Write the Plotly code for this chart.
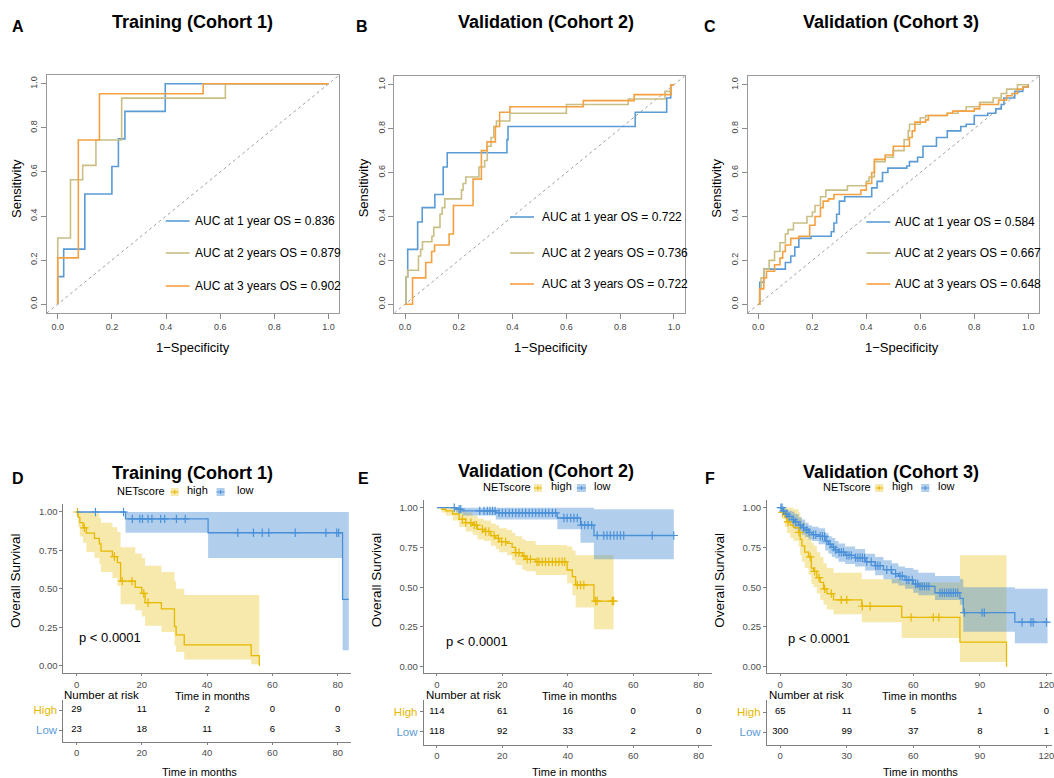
import numpy as np
import plotly.graph_objects as go

W, H = 1054, 778
FONT = "Liberation Sans, Arial, sans-serif"

# ---------------- ROC data (fpr, tpr step vertices) ----------------
rocA_1_fpr = [0, 0, 0.022, 0.10, 0.20, 0.224, 0.248, 0.397, 1.0]
rocA_1_tpr = [0, 0.125, 0.25, 0.50, 0.625, 0.75, 0.875, 1.0, 1.0]
rocA_2_fpr = [0, 0, 0.047, 0.092, 0.141, 0.236, 0.619, 1.0]
rocA_2_tpr = [0, 0.30, 0.565, 0.63, 0.745, 0.935, 1.0, 1.0]
rocA_3_fpr = [0, 0, 0.076, 0.154, 0.537, 1.0]
rocA_3_tpr = [0, 0.21, 0.745, 0.955, 1.0, 1.0]

rocB_1_fpr = [0, 0.004, 0.01, 0.047, 0.064, 0.111, 0.142, 0.157, 0.379, 0.383, 0.856, 0.973, 0.988, 1.0]
rocB_1_tpr = [0, 0.125, 0.25, 0.375, 0.44, 0.50, 0.625, 0.69, 0.75, 0.81, 0.875, 0.94, 1.0, 1.0]
rocB_2_fpr = [0, 0.004, 0.01, 0.05, 0.058, 0.065, 0.10, 0.107, 0.13, 0.138, 0.148, 0.21, 0.216, 0.226,
              0.275, 0.296, 0.306, 0.32, 0.33, 0.34, 0.39, 0.60, 0.83, 0.967, 0.988, 1.0]
rocB_2_tpr = [0, 0.125, 0.155, 0.22, 0.25, 0.285, 0.31, 0.35, 0.41, 0.44, 0.48, 0.52, 0.55, 0.58,
              0.625, 0.655, 0.72, 0.76, 0.81, 0.835, 0.87, 0.91, 0.935, 0.97, 1.0, 1.0]
rocB_3_fpr = [0, 0.028, 0.077, 0.099, 0.11, 0.164, 0.18, 0.253, 0.284, 0.305, 0.336, 0.352, 0.39,
              0.663, 0.852, 0.99, 1.0]
rocB_3_tpr = [0, 0.12, 0.19, 0.24, 0.27, 0.32, 0.45, 0.57, 0.70, 0.74, 0.81, 0.875, 0.90,
              0.928, 0.955, 1.0, 1.0]

rocC_1_fpr = [0, 0.005, 0.02, 0.10, 0.12, 0.135, 0.15, 0.195, 0.27, 0.28, 0.29, 0.30, 0.32, 0.42, 0.44,
              0.46, 0.48, 0.55, 0.56, 0.59, 0.61, 0.66, 0.70, 0.75, 0.77, 0.80, 0.85, 0.88, 0.90, 0.91,
              0.95, 0.98, 1.0]
rocC_1_tpr = [0, 0.10, 0.16, 0.19, 0.22, 0.26, 0.30, 0.31, 0.33, 0.37, 0.41, 0.47, 0.49, 0.53, 0.56,
              0.60, 0.62, 0.63, 0.65, 0.67, 0.72, 0.76, 0.79, 0.81, 0.82, 0.86, 0.87, 0.89, 0.91, 0.94,
              0.97, 0.99, 1.0]
rocC_2_fpr = [0, 0.005, 0.01, 0.02, 0.04, 0.06, 0.08, 0.10, 0.11, 0.13, 0.18, 0.20, 0.21, 0.23, 0.25,
              0.33, 0.40, 0.41, 0.43, 0.47, 0.50, 0.54, 0.555, 0.56, 0.60, 0.62, 0.70, 0.74, 0.77, 0.82,
              0.87, 0.90, 0.92, 0.96, 1.0]
rocC_2_tpr = [0, 0.07, 0.12, 0.16, 0.20, 0.24, 0.28, 0.32, 0.34, 0.37, 0.40, 0.42, 0.45, 0.49, 0.52,
              0.54, 0.56, 0.58, 0.65, 0.67, 0.70, 0.75, 0.79, 0.82, 0.85, 0.86, 0.87, 0.88, 0.90, 0.92,
              0.94, 0.96, 0.98, 1.0, 1.0]
rocC_3_fpr = [0, 0.005, 0.02, 0.03, 0.06, 0.08, 0.09, 0.10, 0.12, 0.15, 0.19, 0.21, 0.23, 0.24, 0.26,
              0.28, 0.38, 0.40, 0.42, 0.43, 0.47, 0.50, 0.56, 0.57, 0.58, 0.62, 0.63, 0.70, 0.72, 0.80,
              0.82, 0.89, 0.92, 0.94, 0.96, 0.98, 1.0]
rocC_3_tpr = [0, 0.07, 0.12, 0.15, 0.18, 0.21, 0.24, 0.27, 0.30, 0.31, 0.36, 0.40, 0.44, 0.47, 0.48,
              0.50, 0.52, 0.55, 0.60, 0.66, 0.68, 0.72, 0.76, 0.79, 0.83, 0.84, 0.86, 0.87, 0.88, 0.89,
              0.91, 0.93, 0.95, 0.96, 0.98, 0.99, 1.0]

aucA = ["0.836", "0.879", "0.902"]
aucB = ["0.722", "0.736", "0.722"]
aucC = ["0.584", "0.667", "0.648"]
roc_labels = ["AUC at 1 year OS = ", "AUC at 2 years OS = ", "AUC at 3 years OS = "]

# ---------------- KM data ----------------
# Cohort 1
D_high_t = [0, 0.5, 1, 2, 3, 5.5, 7, 7.5, 11, 12.5, 13.5, 18, 20, 21, 26, 30, 30.5, 33, 53.5, 56]
D_high_s = [1, 0.966, 0.931, 0.897, 0.862, 0.828, 0.793, 0.745, 0.710, 0.670, 0.550, 0.510, 0.470,
            0.410, 0.370, 0.254, 0.200, 0.135, 0.065, 0.0]
D_high_up = [1, 1, 1, 1, 1, 0.99, 0.96, 0.93, 0.90, 0.87, 0.77, 0.73, 0.70, 0.65, 0.61, 0.55, 0.50,
             0.46, 0.46, 0.46]
D_high_lo = [1, 0.90, 0.84, 0.80, 0.74, 0.70, 0.66, 0.61, 0.57, 0.52, 0.40, 0.36, 0.32, 0.26, 0.22,
             0.13, 0.09, 0.04, 0.01, 0.0]
D_high_end = 56
D_high_cens = [0.3, 2.4, 11.6, 14.0, 17.0, 20.6, 21.9]
D_low_t = [0, 15, 40.3, 81.5]
D_low_s = [1, 0.955, 0.865, 0.432]
D_low_up = [1, 1, 1, 1]
D_low_lo = [1, 0.865, 0.70, 0.10]
D_low_end = 83.4
D_low_cens = [5.8, 14.4, 17.1, 19.4, 20.2, 21.9, 23.1, 25.8, 27.0, 30.6, 33.3, 49.4, 54.2, 56.9,
              58.9, 67.0, 76.4, 79.7, 80.3]

# Cohort 2
E_high_t = [0, 1.5, 2.7, 4.8, 6.8, 8.8, 10.9, 12.4, 14.4, 16.5, 18, 19, 21.5, 23, 24, 26.1, 27.1,
            30.2, 39.8, 41.4, 42.4, 48]
E_high_s = [1, 0.99, 0.98, 0.96, 0.927, 0.906, 0.89, 0.864, 0.85, 0.824, 0.807, 0.786, 0.776, 0.75,
            0.717, 0.696, 0.675, 0.66, 0.608, 0.566, 0.514, 0.413]
E_high_up = [1, 1, 1, 1, 0.98, 0.97, 0.95, 0.93, 0.92, 0.90, 0.89, 0.87, 0.86, 0.84, 0.82, 0.80,
             0.79, 0.765, 0.755, 0.73, 0.70, 0.70]
E_high_lo = [1, 0.97, 0.95, 0.92, 0.88, 0.85, 0.83, 0.80, 0.79, 0.76, 0.74, 0.72, 0.70, 0.67, 0.64,
             0.61, 0.60, 0.576, 0.524, 0.45, 0.373, 0.235]
E_high_end = 54
E_high_cens = [7.8, 8.8, 10.4, 11.4, 12.1, 13.9, 14.9, 15.9, 17.5, 18.8, 19.8, 21.0, 24.1, 25.1,
               26.6, 27.6, 28.6, 30.6, 31.2, 32.2, 33.2, 34.2, 35.3, 36.3, 37.3, 38.3, 39.1, 42.9,
               43.9, 44.9, 48.5, 49.0, 53.6, 54.0]
E_low_t = [0, 5.8, 7.8, 18, 36.8, 43.9, 48]
E_low_s = [1, 0.99, 0.98, 0.967, 0.935, 0.89, 0.825]
E_low_up = [1, 1, 1, 1, 1, 1, 0.99]
E_low_lo = [1, 0.97, 0.95, 0.925, 0.864, 0.78, 0.675]
E_low_end = 72.4
E_low_cens = [5.3, 6.8, 7.3, 13.1, 14.4, 15.4, 16.2, 17.0, 17.8, 19.0, 20.0, 21.0, 22.1, 23.1, 24.1,
              25.1, 26.1, 27.1, 28.2, 29.2, 30.2, 31.2, 32.2, 33.2, 34.2, 35.3, 36.3, 38.8, 39.8,
              40.9, 41.9, 42.9, 44.2, 45.2, 46.2, 47.3, 49.0, 51.0, 52.0, 53.0, 54.1, 55.1, 56.1,
              57.1, 65.8, 72.4]

# Cohort 3
F_high_t = [0, 0.75, 2, 3, 4.5, 6, 8.25, 9, 9.75, 11, 12.75, 14, 15, 16.5, 18, 19.5, 21, 24, 36.75,
            54.75, 81, 102]
F_high_s = [1, 0.97, 0.94, 0.91, 0.89, 0.875, 0.845, 0.80, 0.76, 0.72, 0.69, 0.62, 0.60, 0.56, 0.53,
            0.49, 0.46, 0.42, 0.38, 0.31, 0.155, 0.0]
F_high_up = [1, 1, 1, 1, 1, 0.99, 0.97, 0.94, 0.91, 0.87, 0.84, 0.78, 0.76, 0.72, 0.69, 0.65, 0.62,
             0.59, 0.55, 0.53, 0.70, 0.70]
F_high_lo = [1, 0.93, 0.88, 0.84, 0.81, 0.79, 0.755, 0.70, 0.66, 0.62, 0.58, 0.52, 0.50, 0.46, 0.42,
             0.39, 0.36, 0.33, 0.28, 0.18, 0.03, 0.03]
F_high_end = 102
F_high_cens = [1, 3.5, 8.5, 13.5, 15.5, 17.5, 20, 23, 27.5, 30, 37, 40.5, 59, 69, 71.5]
F_low_t = [0, 1, 2.25, 3.5, 5.25, 6.5, 8.25, 9.75, 11.25, 12.75, 14.25, 17.25, 20.25, 21.75, 23.25,
           24.75, 26.25, 29.25, 33.75, 38.25, 42.75, 46.5, 50.25, 53.25, 56.25, 60, 62.25, 69.75,
           81, 82.5, 105.75]
F_low_s = [1, 0.98, 0.96, 0.945, 0.925, 0.91, 0.89, 0.875, 0.86, 0.845, 0.83, 0.82, 0.79, 0.77, 0.75,
           0.735, 0.72, 0.70, 0.685, 0.66, 0.635, 0.61, 0.585, 0.57, 0.545, 0.52, 0.505, 0.465, 0.43,
           0.34, 0.28]
F_low_up = [1, 1, 0.99, 0.98, 0.975, 0.96, 0.94, 0.925, 0.905, 0.89, 0.88, 0.87, 0.84, 0.82, 0.81,
            0.79, 0.775, 0.755, 0.74, 0.71, 0.69, 0.67, 0.65, 0.63, 0.62, 0.61, 0.59, 0.57, 0.55,
            0.50, 0.49]
F_low_lo = [1, 0.96, 0.93, 0.91, 0.88, 0.865, 0.85, 0.83, 0.815, 0.80, 0.79, 0.77, 0.73, 0.71, 0.69,
            0.68, 0.66, 0.645, 0.63, 0.605, 0.575, 0.55, 0.525, 0.51, 0.49, 0.465, 0.45, 0.42, 0.39,
            0.22, 0.147]
F_low_end = 120.5
F_low_cens = [0.3, 0.8, 1.5, 3, 4, 6, 7, 9, 10.5, 12, 13, 15, 16, 18, 19, 20, 21, 22.5, 24, 25, 26.5,
              27.5, 28.5, 30, 31, 32, 34, 35, 36, 37, 38, 39, 41, 43, 44, 45, 48, 50, 52, 54, 55,
              57, 58, 59.5, 61, 62, 63, 64, 65, 66, 67, 72, 73, 74, 75, 76, 77, 78, 79, 80, 83, 91,
              92, 109, 113, 114, 120]

# Risk tables
D_risk_t = [0, 20, 40, 60, 80]
D_risk_high = [29, 11, 2, 0, 0]
D_risk_low = [23, 18, 11, 6, 3]
E_risk_t = [0, 20, 40, 60, 80]
E_risk_high = [114, 61, 16, 0, 0]
E_risk_low = [118, 92, 33, 2, 0]
F_risk_t = [0, 30, 60, 90, 120]
F_risk_high = [65, 11, 5, 1, 0]
F_risk_low = [300, 99, 37, 8, 1]

surv_ticks = [0, 0.25, 0.5, 0.75, 1.0]
surv_ticktext = ["0.00", "0.25", "0.50", "0.75", "1.00"]
roc_ticks = [0, 0.2, 0.4, 0.6, 0.8, 1.0]
roc_ticktext = ["0.0", "0.2", "0.4", "0.6", "0.8", "1.0"]

# ---------------- styling ----------------
C_BLUE, C_TAN, C_ORANGE = "#5B9BD5", "#C9BF85", "#F5A141"
C_HIGH, C_LOW = "#E7B800", "#4A90D9"
F_HIGH, F_LOW = "rgba(231,184,0,0.33)", "rgba(70,140,210,0.42)"


def fx(px):
    return px / W


def fy(py):
    return 1 - py / H


def dx(a, b):
    return [a / W, b / W]


def dy(top, bottom):
    return [1 - bottom / H, 1 - top / H]


fig = go.Figure()
layout = dict(width=W, height=H, margin=dict(l=0, r=0, t=0, b=0), paper_bgcolor="white",
              plot_bgcolor="rgba(0,0,0,0)", showlegend=False, font=dict(family=FONT, color="black"))
annotations = []
shapes = []


def ax_name(i, k):
    return f"{k}axis" if i == 1 else f"{k}axis{i}"


def ref(i, k):
    return k if i == 1 else f"{k}{i}"


def ann(x, y, text, size=12, color="black", xanchor="center", yanchor="middle", bold=False, angle=0):
    if bold:
        text = f"<b>{text}</b>"
    annotations.append(dict(x=fx(x), y=fy(y), xref="paper", yref="paper", text=text, showarrow=False,
                            xanchor=xanchor, yanchor=yanchor, textangle=angle,
                            font=dict(family=FONT, size=size, color=color)))


# ---------------- ROC panels ----------------
roc_panels = [
    (1, (47, 340), (75, 313), [(rocA_1_fpr, rocA_1_tpr), (rocA_2_fpr, rocA_2_tpr), (rocA_3_fpr, rocA_3_tpr)], aucA,
     (166, 190, 193, [221, 253, 286]), 17, 193, 347),
    (2, (395, 686), (76, 313), [(rocB_1_fpr, rocB_1_tpr), (rocB_2_fpr, rocB_2_tpr), (rocB_3_fpr, rocB_3_tpr)], aucB,
     (511, 535, 541, [217, 253, 284]), 365, 552, 347),
    (3, (749, 1041), (76, 313), [(rocC_1_fpr, rocC_1_tpr), (rocC_2_fpr, rocC_2_tpr), (rocC_3_fpr, rocC_3_tpr)], aucC,
     (868, 892, 895, [222, 253, 284]), 718, 904, 347),
]
roc_colors = [C_BLUE, C_TAN, C_ORANGE]
RR = [-0.04, 1.04]
for i, xd, yd, curves, aucs, leg, ytx, xtx, xty in roc_panels:
    common = dict(range=RR, showgrid=False, zeroline=False, showline=True, mirror=True, linecolor="#9a9a9a",
                  linewidth=1, ticks="outside", ticklen=5, tickcolor="#8a8a8a", tickvals=roc_ticks,
                  ticktext=roc_ticktext, tickfont=dict(size=9, color="#444", family=FONT), fixedrange=True)
    layout[ax_name(i, "x")] = dict(domain=dx(*xd), anchor=ref(i, "y"), **common)
    layout[ax_name(i, "y")] = dict(domain=dy(*yd), anchor=ref(i, "x"), tickangle=-90, **common)
    # diagonal reference
    shapes.append(dict(type="line", xref=ref(i, "x"), yref=ref(i, "y"), x0=RR[0], y0=RR[0], x1=RR[1], y1=RR[1],
                       line=dict(color="#a0a0a0", width=1, dash="dot"), layer="below"))
    for (fpr, tpr), col in zip(curves, roc_colors):
        fig.add_trace(go.Scatter(x=fpr, y=tpr, mode="lines", line=dict(color=col, width=1.6, shape="hv"),
                                 xaxis=ref(i, "x"), yaxis=ref(i, "y"), hoverinfo="skip"))
    lx0, lx1, tx, rows = leg
    for lab, auc, col, ry in zip(roc_labels, aucs, roc_colors, rows):
        shapes.append(dict(type="line", xref="paper", yref="paper", x0=fx(lx0), x1=fx(lx1), y0=fy(ry), y1=fy(ry),
                           line=dict(color=col, width=1.6)))
        ann(tx, ry, lab + auc, size=12, xanchor="left")
    ann(ytx, 188, "Sensitivity", size=13, angle=-90)
    ann(xtx, xty, "1\u2212Specificity", size=13)

# ---------------- KM panels ----------------
km_panels = [
    dict(i=4, r=7, xd=(63.6, 351.4), yd=(504.3, 673.4), yr=[-0.05, 1.05], xr=[-4, 84], xt=[0, 20, 40, 60, 80],
         high=(D_high_t, D_high_s, D_high_up, D_high_lo, D_high_end, D_high_cens),
         low=(D_low_t, D_low_s, D_low_up, D_low_lo, D_low_end, D_low_cens),
         risk=(D_risk_t, D_risk_high, D_risk_low), ryd=(700, 742), ryr=[-0.6, 1.5]),
    dict(i=5, r=8, xd=(424.6, 713.1), yd=(499.7, 673.4), yr=[-0.042, 1.05], xr=[-4, 84], xt=[0, 20, 40, 60, 80],
         high=(E_high_t, E_high_s, E_high_up, E_high_lo, E_high_end, E_high_cens),
         low=(E_low_t, E_low_s, E_low_up, E_low_lo, E_low_end, E_low_cens),
         risk=(E_risk_t, E_risk_high, E_risk_low), ryd=(700, 745), ryr=[-0.665, 1.585]),
    dict(i=6, r=9, xd=(768.4, 1054), yd=(499.7, 673.4), yr=[-0.042, 1.05], xr=[-6, 122.5], xt=[0, 30, 60, 90, 120],
         high=(F_high_t, F_high_s, F_high_up, F_high_lo, F_high_end, F_high_cens),
         low=(F_low_t, F_low_s, F_low_up, F_low_lo, F_low_end, F_low_cens),
         risk=(F_risk_t, F_risk_high, F_risk_low), ryd=(700, 745), ryr=[-0.65, 1.6]),
]

for p in km_panels:
    i, r = p["i"], p["r"]
    xa, ya = ref(i, "x"), ref(i, "y")
    kcommon = dict(showgrid=False, zeroline=False, showline=True, linecolor="#7f7f7f", linewidth=1,
                   ticks="outside", ticklen=3, tickcolor="#7f7f7f",
                   tickfont=dict(size=9.5, color="#4d4d4d", family=FONT), fixedrange=True)
    xcommon = dict(kcommon)
    xcommon["ticklen"] = 2
    xcommon["ticklabeloverflow"] = "allow"
    layout[ax_name(i, "x")] = dict(domain=dx(*p["xd"]), range=p["xr"], anchor=ya, tickvals=p["xt"], **xcommon)
    layout[ax_name(i, "y")] = dict(domain=dy(*p["yd"]), range=p["yr"], anchor=xa, tickvals=surv_ticks,
                                   ticktext=surv_ticktext, **kcommon)
    for grp, lc, fc in [(p["high"], C_HIGH, F_HIGH), (p["low"], C_LOW, F_LOW)]:
        t, s, up, lo, end, cens = grp
        tx = list(t) + [end]
        fig.add_trace(go.Scatter(x=tx, y=list(lo) + [lo[-1]], mode="lines", line=dict(width=0, shape="hv"),
                                 xaxis=xa, yaxis=ya, hoverinfo="skip"))
        fig.add_trace(go.Scatter(x=tx, y=list(up) + [up[-1]], mode="lines", line=dict(width=0, shape="hv"),
                                 fill="tonexty", fillcolor=fc, xaxis=xa, yaxis=ya, hoverinfo="skip"))
    for grp, lc in [(p["high"], C_HIGH), (p["low"], C_LOW)]:
        t, s, up, lo, end, cens = grp
        fig.add_trace(go.Scatter(x=list(t) + [end], y=list(s) + [s[-1]], mode="lines",
                                 line=dict(color=lc, width=1.3, shape="hv"), xaxis=xa, yaxis=ya, hoverinfo="skip"))
        ta = np.array(t)
        idx = np.searchsorted(ta, np.array(cens), side="right") - 1
        cy = np.array(s)[idx]
        fig.add_trace(go.Scatter(x=cens, y=cy, mode="markers",
                                 marker=dict(symbol="cross-thin", size=6, line=dict(color=lc, width=1.2)),
                                 xaxis=xa, yaxis=ya, hoverinfo="skip"))
    # risk table
    rxa, rya = ref(r, "x"), ref(r, "y")
    rt, rh, rl = p["risk"]
    layout[ax_name(r, "x")] = dict(domain=dx(*p["xd"]), range=p["xr"], anchor=rya, tickvals=p["xt"], **xcommon)
    rc = dict(kcommon)
    rc["tickfont"] = dict(size=11.5, family=FONT, color="#333")
    layout[ax_name(r, "y")] = dict(domain=dy(*p["ryd"]), range=p["ryr"], anchor=rxa, tickvals=[0, 1],
                                   ticktext=[f'<span style="color:{C_BLUE}">Low</span>',
                                             f'<span style="color:{C_HIGH}">High</span>'], **rc)
    fig.add_trace(go.Scatter(x=rt, y=[1] * len(rt), text=[str(v) for v in rh], mode="text",
                             textfont=dict(size=9.5, color="black", family=FONT), xaxis=rxa, yaxis=rya,
                             hoverinfo="skip"))
    fig.add_trace(go.Scatter(x=rt, y=[0] * len(rt), text=[str(v) for v in rl], mode="text",
                             textfont=dict(size=9.5, color="black", family=FONT), xaxis=rxa, yaxis=rya,
                             hoverinfo="skip"))

# KM legends
km_legends = [
    (115, 491, (171, 179), 185, (217, 225), 235),
    (482, 487, (535, 543), 550, (578, 587), 593),
    (823, 487, (877, 885), 892, (923, 931), 938),
]
for nx, ly, k1, hx, k2, lwx in km_legends:
    ann(nx, ly, "NETscore", size=11, xanchor="left")
    for (ka, kb), fc, lc in [(k1, F_HIGH, C_HIGH), (k2, F_LOW, C_LOW)]:
        shapes.append(dict(type="rect", xref="paper", yref="paper", x0=fx(ka), x1=fx(kb), y0=fy(ly + 5),
                           y1=fy(ly - 3), fillcolor=fc, line=dict(width=0)))
        shapes.append(dict(type="line", xref="paper", yref="paper", x0=fx(ka), x1=fx(kb), y0=fy(ly + 1),
                           y1=fy(ly + 1), line=dict(color=lc, width=1)))
        shapes.append(dict(type="line", xref="paper", yref="paper", x0=fx((ka + kb) / 2), x1=fx((ka + kb) / 2),
                           y0=fy(ly - 1), y1=fy(ly + 3), line=dict(color=lc, width=1)))
    ann(hx, ly - 1, "high", size=11, xanchor="left")
    ann(lwx, ly - 1, "low", size=11, xanchor="left")

# KM text
for x, y in [(77, 637), (445, 641), (787, 638)]:
    ann(x, y, "p &lt; 0.0001", size=13, xanchor="left")
for x in [15, 377, 720]:
    ann(x, 580, "Overall Survival", size=13.5, angle=-90)
for x in [62, 425, 768]:
    ann(x, 695, "Number at risk", size=11.5, xanchor="left")
for x in [213, 581, 921]:
    ann(x, 696, "Time in months", size=11)
for x in [200, 571, 922]:
    ann(x, 772, "Time in months", size=11)

# titles & letters
for x, y, t in [(193, 22, "Training (Cohort 1)"), (547, 22, "Validation (Cohort 2)"), (893, 22, "Validation (Cohort 3)"),
                (193, 473, "Training (Cohort 1)"), (547, 471, "Validation (Cohort 2)"), (893, 472, "Validation (Cohort 3)")]:
    ann(x, y, t, size=18, bold=True)
for x, y, t in [(18, 27, "A"), (363, 27, "B"), (711, 27, "C"), (18, 478, "D"), (364, 478, "E"), (711, 478, "F")]:
    ann(x, y, t, size=16, bold=True)

layout["annotations"] = annotations
layout["shapes"] = shapes
fig.update_layout(**layout)
fig.write_html("out.html")
